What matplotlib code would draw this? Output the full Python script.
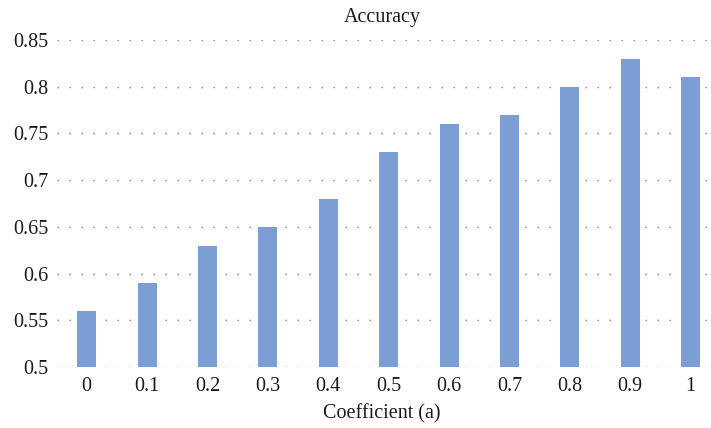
import matplotlib
matplotlib.use("Agg")
import matplotlib.pyplot as plt

plt.rcParams['font.family'] = ['Liberation Serif', 'DejaVu Serif']
plt.rcParams['lines.scale_dashes'] = False

categories = ["0", "0.1", "0.2", "0.3", "0.4", "0.5", "0.6", "0.7", "0.8", "0.9", "1"]
accuracy = [0.56, 0.59, 0.63, 0.65, 0.68, 0.73, 0.76, 0.77, 0.80, 0.83, 0.81]
y_ticks = [0.5, 0.55, 0.6, 0.65, 0.7, 0.75, 0.8, 0.85]
y_labels = ["0.5", "0.55", "0.6", "0.65", "0.7", "0.75", "0.8", "0.85"]

fig = plt.figure(figsize=(7.11, 4.28), dpi=100)
ax = fig.add_axes([0.0802, 0.1425, 0.9142, 0.764])

x = list(range(len(categories)))
ax.bar(x, [v - 0.5 for v in accuracy], bottom=0.5, width=0.315,
       color="#7b9fd5", zorder=3)

ax.set_xlim(-0.49, 10.27)
ax.set_ylim(0.5, 0.85)
ax.set_yticks(y_ticks)
ax.set_yticklabels(y_labels)
ax.set_xticks(x)
ax.set_xticklabels(categories)
ax.tick_params(length=0, labelsize=14.5, colors="#1a1a1a")
ax.tick_params(axis='y', pad=6)
ax.tick_params(axis='x', pad=7)

ax.yaxis.grid(True, color="#808080", linewidth=1.0,
              linestyle=(0, (1.0, 7.64)), zorder=0)
ax.set_axisbelow(True)
for s in ax.spines.values():
    s.set_visible(False)

ax.set_title("Accuracy", fontsize=14.5, pad=13, color="#1a1a1a")
ax.set_xlabel("Coefficient (a)", fontsize=14.5, labelpad=6, color="#1a1a1a")

fig.savefig("out.png", dpi=100)
